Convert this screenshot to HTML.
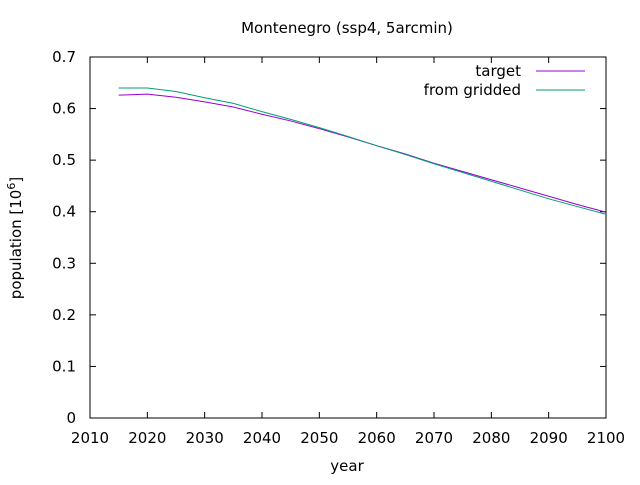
<!DOCTYPE html>
<html><head><meta charset="utf-8"><style>body{margin:0;background:#fff}svg text{font-family:"DejaVu Sans","Liberation Sans",sans-serif;font-size:15px;fill:#000}</style></head>
<body>
<svg id="c" width="640" height="480">
<text x="347" y="33" text-anchor="middle">Montenegro (ssp4, 5arcmin)</text>
<text x="347" y="471" text-anchor="middle">year</text>
<text transform="translate(21,238) rotate(-90)" text-anchor="middle">population [10<tspan dy="-6" font-size="11">6</tspan><tspan dy="6">]</tspan></text>
<rect x="90" y="57" width="516" height="361" fill="none" stroke="#000"/>
<g id="ax"></g>
<g id="lines"></g>
<text x="521" y="76" text-anchor="end">target</text>
<line x1="536" y1="71" x2="585" y2="71" stroke="#9400d3"/>
<text x="521" y="95" text-anchor="end">from gridded</text>
<line x1="536" y1="90" x2="585" y2="90" stroke="#009e73"/>
</svg>
<script>
const years=[2015,2020,2025,2030,2035,2040,2045,2050,2055,2060,2065,2070,2075,2080,2085,2090,2095,2100];
const target=[.626,.628,.622,.613,.603,.589,.576,.561,.545,.528,.512,.494,.478,.462,.446,.430,.414,.399];
const gridded=[.640,.640,.633,.621,.610,.594,.579,.563,.546,.528,.511,.493,.476,.459,.442,.425,.410,.395];
const xTicks=[2010,2020,2030,2040,2050,2060,2070,2080,2090,2100];
const yTicks=[0,0.1,0.2,0.3,0.4,0.5,0.6,0.7];
const NS="http://www.w3.org/2000/svg";
const X=v=>90+(v-2010)/90*516, Y=v=>418-v/0.7*361;
const ax=document.getElementById('ax');
function mk(t,a,p){const e=document.createElementNS(NS,t);for(const k in a)e.setAttribute(k,a[k]);p.appendChild(e);return e;}
xTicks.forEach(t=>{const x=X(t);
const l=mk('line',{x1:x,y1:418,x2:x,y2:412,stroke:'#000'},ax);


const l2=mk('line',{x1:x,y1:57,x2:x,y2:63,stroke:'#000'},ax);


const tx=mk('text',{x:x,y:443,'text-anchor':'middle'},ax);tx.textContent=t;

});
yTicks.forEach(t=>{const y=Y(t);
const l=mk('line',{x1:90,y1:y,x2:96,y2:y,stroke:'#000'},ax);


const l2=mk('line',{x1:606,y1:y,x2:600,y2:y,stroke:'#000'},ax);


const tx=mk('text',{x:76,y:y+5,'text-anchor':'end'},ax);tx.textContent=t;

});
const lg=document.getElementById('lines');
[[target,'#9400d3','target-line'],[gridded,'#009e73','gridded-line']].forEach(([d,c,n])=>{
const p=mk('polyline',{points:years.map((y,i)=>X(y)+','+Y(d[i])).join(' '),fill:'none',stroke:c,'stroke-width':1},lg);

});
</script>
</body></html>
